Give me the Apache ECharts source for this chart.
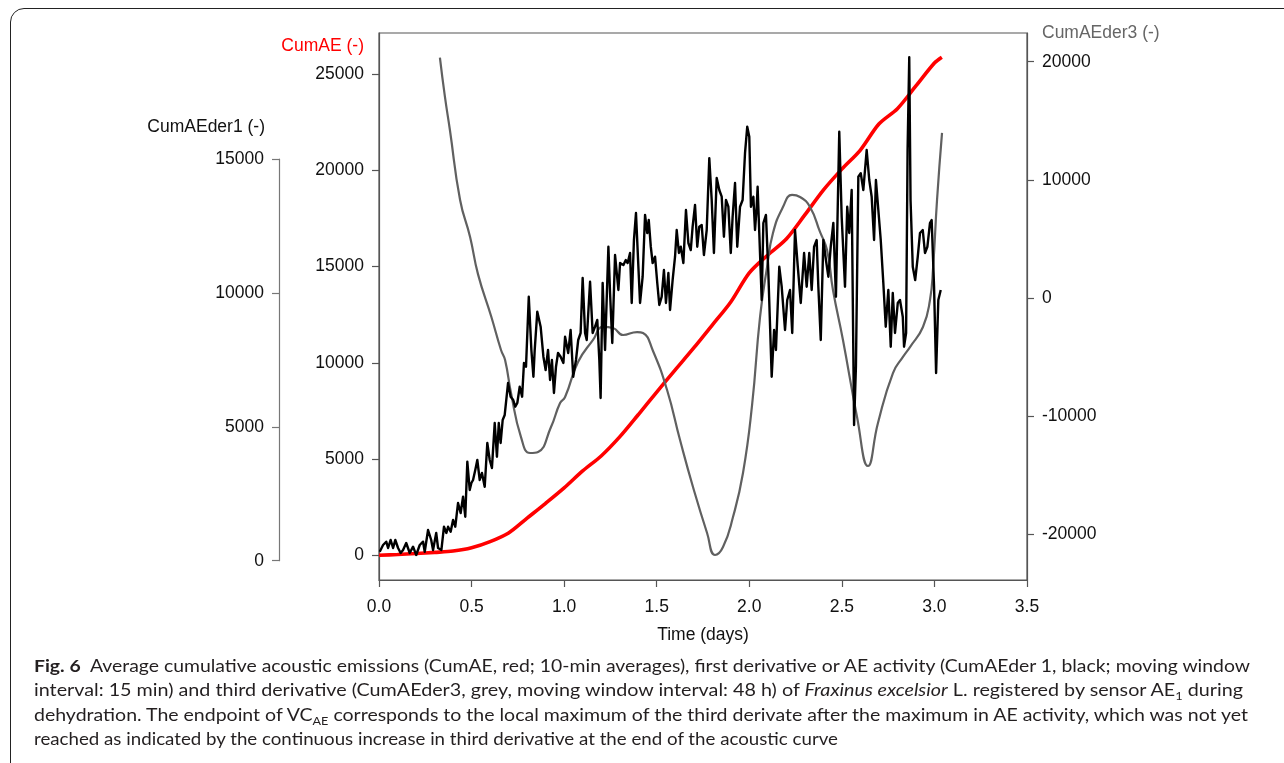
<!DOCTYPE html>
<html><head><meta charset="utf-8">
<script src="https://cdn.jsdelivr.net/npm/echarts@6/dist/echarts.min.js"></script>
<style>
html,body{margin:0;padding:0;background:#fff;width:1284px;height:763px;overflow:hidden;}
#frame{position:absolute;left:10px;top:8px;width:1330px;height:830px;border:1.5px solid #222;border-radius:14px;box-sizing:border-box;}
#chart{position:absolute;left:0;top:0;width:1284px;height:763px;}
#caption{position:absolute;left:34px;top:654px;font-family:Lato,'Noto Sans',sans-serif;font-size:17px;color:#231f20;}
.line{white-space:nowrap;height:24.4px;line-height:24.4px;transform-origin:0 50%;display:block;width:max-content;}
sub{font-size:11px;line-height:0;}
</style></head>
<body>
<div id="frame"></div>
<div id="chart"></div>
<div id="caption">
<div class="line" data-w="1216"><b>Fig. 6</b>&nbsp;&nbsp;Average cumulative acoustic emissions (CumAE, red; 10-min averages), first derivative or AE activity (CumAEder 1, black; moving window</div>
<div class="line" data-w="1209">interval: 15 min) and third derivative (CumAEder3, grey, moving window interval: 48 h) of <i>Fraxinus excelsior</i> L. registered by sensor AE<sub>1</sub> during</div>
<div class="line" data-w="1214">dehydration. The endpoint of VC<sub>AE</sub> corresponds to the local maximum of the third derivate after the maximum in AE activity, which was not yet</div>
<div class="line" data-w="804">reached as indicated by the continuous increase in third derivative at the end of the acoustic curve</div>
</div>
<script>
// ---- data ----
const xTicks = [0, 0.5, 1, 1.5, 2, 2.5, 3, 3.5];
const cumAETicks = [0, 5000, 10000, 15000, 20000, 25000];
const der1Ticks = [0, 5000, 10000, 15000];
const der3Ticks = [-20000, -10000, 0, 10000, 20000];

// CumAE (red), days / counts
const cumAEDays = [0, 0.1, 0.2, 0.3, 0.4, 0.5, 0.6, 0.7, 0.8, 0.9, 1.0, 1.1, 1.2, 1.3, 1.4, 1.5, 1.6, 1.7, 1.8, 1.9, 2.0, 2.1, 2.2, 2.3, 2.4, 2.5, 2.6, 2.7, 2.8, 2.9, 3.0, 3.04];
const cumAEValues = [0, 40, 90, 150, 220, 390, 710, 1160, 1930, 2700, 3500, 4380, 5160, 6150, 7300, 8480, 9630, 10770, 11960, 13160, 14670, 15600, 16430, 17680, 18970, 20060, 21050, 22400, 23200, 24380, 25570, 25870];

// CumAEder3 (grey)
const der3Days = [0.329, 0.356, 0.383, 0.438, 0.492, 0.535, 0.607, 0.659, 0.681, 0.713, 0.767, 0.816, 0.859, 0.929, 0.978, 1.005, 1.075, 1.156, 1.210, 1.264, 1.318, 1.394, 1.426, 1.480, 1.556, 1.626, 1.696, 1.772, 1.815, 1.858, 1.912, 1.966, 2.015, 2.058, 2.096, 2.128, 2.182, 2.231, 2.274, 2.328, 2.382, 2.420, 2.452, 2.506, 2.582, 2.641, 2.695, 2.776, 2.830, 2.868, 2.938, 2.976, 2.993, 3.014, 3.041];
const der3Values = [20340, 17040, 14220, 8300, 5160, 2000, -1610, -4400, -5250, -8040, -11770, -13120, -13030, -10920, -8890, -8380, -5420, -3550, -2450, -2540, -3130, -2880, -2960, -4490, -7790, -12020, -16000, -19890, -21750, -21080, -18540, -14810, -9060, -1610, 2620, 5500, 7700, 8720, 8550, 7700, 5590, 4060, 680, -3550, -10070, -14220, -10580, -6350, -4990, -4150, -2450, -170, 2620, 8290, 13970];

// CumAEder1 (black)
const der1Days = [0.004, 0.022, 0.039, 0.049, 0.063, 0.076, 0.088, 0.103, 0.117, 0.130, 0.147, 0.166, 0.184, 0.201, 0.220, 0.238, 0.247, 0.265, 0.282, 0.292, 0.309, 0.319, 0.337, 0.351, 0.364, 0.373, 0.387, 0.400, 0.412, 0.427, 0.441, 0.454, 0.466, 0.477, 0.490, 0.499, 0.508, 0.520, 0.531, 0.544, 0.556, 0.571, 0.585, 0.598, 0.610, 0.625, 0.637, 0.647, 0.657, 0.668, 0.679, 0.697, 0.711, 0.725, 0.736, 0.747, 0.760, 0.773, 0.783, 0.794, 0.809, 0.823, 0.834, 0.841, 0.855, 0.873, 0.888, 0.900, 0.913, 0.924, 0.934, 0.945, 0.956, 0.967, 0.981, 0.996, 1.005, 1.022, 1.035, 1.049, 1.064, 1.076, 1.089, 1.100, 1.113, 1.122, 1.140, 1.154, 1.167, 1.179, 1.190, 1.197, 1.208, 1.221, 1.239, 1.248, 1.260, 1.275, 1.293, 1.302, 1.320, 1.333, 1.343, 1.356, 1.365, 1.377, 1.388, 1.401, 1.410, 1.424, 1.437, 1.449, 1.457, 1.468, 1.478, 1.491, 1.503, 1.514, 1.527, 1.539, 1.550, 1.563, 1.572, 1.586, 1.599, 1.608, 1.620, 1.630, 1.644, 1.658, 1.671, 1.684, 1.694, 1.707, 1.719, 1.730, 1.743, 1.755, 1.770, 1.784, 1.797, 1.809, 1.824, 1.838, 1.851, 1.863, 1.874, 1.887, 1.900, 1.910, 1.923, 1.935, 1.950, 1.964, 1.977, 1.989, 2.000, 2.009, 2.022, 2.031, 2.040, 2.045, 2.054, 2.067, 2.076, 2.090, 2.103, 2.121, 2.134, 2.144, 2.162, 2.175, 2.193, 2.205, 2.220, 2.232, 2.247, 2.262, 2.278, 2.296, 2.310, 2.324, 2.337, 2.350, 2.364, 2.373, 2.386, 2.400, 2.414, 2.427, 2.440, 2.454, 2.468, 2.486, 2.499, 2.517, 2.529, 2.540, 2.553, 2.566, 2.576, 2.589, 2.602, 2.616, 2.634, 2.648, 2.661, 2.674, 2.684, 2.697, 2.710, 2.724, 2.737, 2.751, 2.764, 2.775, 2.787, 2.802, 2.814, 2.829, 2.836, 2.847, 2.855, 2.864, 2.871, 2.883, 2.896, 2.910, 2.922, 2.937, 2.949, 2.962, 2.976, 2.985, 2.998, 3.009, 3.021, 3.034];
const der1Values = [336, 586, 709, 474, 773, 474, 773, 474, 288, 400, 661, 288, 523, 213, 586, 709, 336, 1146, 773, 400, 1034, 474, 400, 1270, 1034, 1270, 1083, 1520, 1270, 2155, 1781, 2390, 1643, 3697, 2640, 2901, 3013, 3387, 3760, 3013, 3275, 2763, 4395, 3760, 3461, 5142, 3883, 5142, 4395, 5254, 5441, 6635, 6124, 6001, 5750, 5889, 6497, 6124, 7382, 7244, 9858, 7868, 6871, 7868, 9298, 8738, 7617, 7121, 7868, 6748, 7494, 6262, 7244, 7756, 7617, 7382, 8364, 7756, 8615, 6871, 7494, 8241, 8502, 10556, 8502, 8241, 10418, 8502, 8738, 8988, 7494, 6075, 10369, 7868, 11725, 9996, 8129, 11415, 10108, 11116, 11041, 11228, 11116, 11490, 9623, 11975, 12983, 10978, 9623, 10605, 12909, 12237, 12722, 11725, 11116, 11351, 10369, 9548, 9858, 10855, 9623, 10743, 9361, 10481, 11351, 12348, 11490, 11725, 11116, 13095, 11863, 11602, 12472, 13284, 11725, 12472, 12535, 11415, 12348, 15026, 13470, 11490, 14290, 13842, 13592, 12098, 13470, 13218, 11490, 12845, 14103, 11725, 13218, 13470, 15224, 16206, 15832, 13218, 13592, 12348, 13218, 13965, 12236, 9735, 12610, 12909, 10743, 6871, 8615, 7868, 10978, 10231, 8615, 9735, 10108, 8502, 12348, 10978, 9623, 11490, 10231, 11490, 10108, 11725, 11975, 10231, 8241, 11975, 11228, 10605, 11725, 12610, 9858, 16019, 12845, 10231, 13218, 12236, 13842, 5067, 7244, 14339, 14466, 13842, 15335, 14215, 13592, 11975, 14215, 13095, 11975, 10369, 8738, 10108, 7991, 9996, 8502, 9623, 9735, 9111, 7991, 8502, 15335, 18797, 13470, 10978, 10481, 11351, 12236, 12348, 11490, 11725, 12610, 12722, 10231, 7009, 9735, 10108];

// ---- chart ----
const zip = (a, b) => a.map((v, i) => [v, b[i]]);
const AX = '#555';
const FONT = '"Liberation Sans", Arial, sans-serif';
const lab = {color: '#111', fontSize: 17.5, fontFamily: FONT, formatter: v => String(v)};

const chart = echarts.init(document.getElementById('chart'), null, {renderer: 'canvas'});
chart.setOption({
  animation: false,
  backgroundColor: 'transparent',
  grid: [
    {left: 379, top: 33, width: 648, height: 547, show: true, borderColor: AX, borderWidth: 1.2, backgroundColor: 'transparent'},
    {left: 279, top: 159, width: 10, height: 401.7, show: false}
  ],
  xAxis: [
    {type: 'value', gridIndex: 0, min: 0, max: 3.5, interval: 0.5, position: 'bottom',
     axisLine: {onZero: false, lineStyle: {color: AX, width: 1.2}},
     axisTick: {inside: false, length: 7, lineStyle: {color: AX, width: 1.2}},
     axisLabel: Object.assign({}, lab, {margin: 18, formatter: v => v.toFixed(1), customValues: xTicks}),
     splitLine: {show: false}},
    {type: 'value', gridIndex: 1, min: 0, max: 1, show: false}
  ],
  yAxis: [
    {type: 'value', gridIndex: 0, position: 'left', min: -1283, max: 27130,
     axisLine: {show: true, onZero: false, lineStyle: {color: AX, width: 1.2}},
     axisTick: {show: true, inside: false, length: 7, customValues: cumAETicks, lineStyle: {color: AX, width: 1.2}},
     axisLabel: Object.assign({}, lab, {margin: 15, customValues: cumAETicks}),
     splitLine: {show: false}},
    {type: 'value', gridIndex: 0, position: 'left', min: -721, max: 19705, show: false},
    {type: 'value', gridIndex: 0, position: 'right', min: -23868, max: 22429,
     axisLine: {show: true, onZero: false, lineStyle: {color: AX, width: 1.2}},
     axisTick: {show: true, inside: false, length: 7, customValues: der3Ticks, lineStyle: {color: AX, width: 1.2}},
     axisLabel: Object.assign({}, lab, {margin: 15, customValues: der3Ticks}),
     splitLine: {show: false}},
    {type: 'value', gridIndex: 1, position: 'left', min: 0, max: 15000, interval: 5000,
     axisLine: {show: true, onZero: false, lineStyle: {color: '#777', width: 1.2}},
     axisTick: {show: true, inside: false, length: 7, lineStyle: {color: '#777', width: 1.2}},
     axisLabel: Object.assign({}, lab, {margin: 15, customValues: der1Ticks}),
     splitLine: {show: false}}
  ],
  series: [
    {name: 'CumAE', type: 'line', xAxisIndex: 0, yAxisIndex: 0, data: zip(cumAEDays, cumAEValues),
     showSymbol: false, smooth: 0.3, lineStyle: {color: '#ff0000', width: 3.6}, z: 2, silent: true},
    {name: 'CumAEder3', type: 'line', xAxisIndex: 0, yAxisIndex: 2, data: zip(der3Days, der3Values),
     showSymbol: false, smooth: true, lineStyle: {color: '#606060', width: 2.2}, z: 3, silent: true},
    {name: 'CumAEder1', type: 'line', xAxisIndex: 0, yAxisIndex: 1, data: zip(der1Days, der1Values),
     showSymbol: false, smooth: false, lineStyle: {color: '#000', width: 2.4, join: 'round'}, z: 4, silent: true}
  ],
  graphic: [
    {type: 'text', x: 364, y: 46, style: {text: 'CumAE (-)', fill: '#ff0000', font: '17.5px ' + FONT, align: 'right', verticalAlign: 'middle'}},
    {type: 'text', x: 265, y: 127, style: {text: 'CumAEder1 (-)', fill: '#111', font: '17.5px ' + FONT, align: 'right', verticalAlign: 'middle'}},
    {type: 'text', x: 1042, y: 33, style: {text: 'CumAEder3 (-)', fill: '#666', font: '17.5px ' + FONT, align: 'left', verticalAlign: 'middle'}},
    {type: 'text', x: 703, y: 635, style: {text: 'Time (days)', fill: '#111', font: '17.5px ' + FONT, align: 'center', verticalAlign: 'middle'}}
  ]
});

// fit caption lines to the reference line widths
document.querySelectorAll('#caption .line').forEach(el => {
  const target = +el.dataset.w;
  const w = el.getBoundingClientRect().width;
  if (w > 0) el.style.transform = 'scaleX(' + (target / w).toFixed(4) + ')';
});
</script>
</body></html>
